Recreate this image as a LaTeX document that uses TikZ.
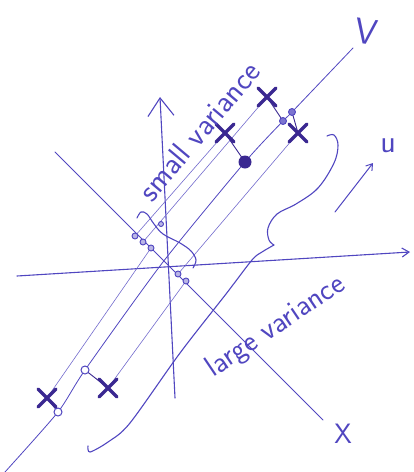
\documentclass[tikz,border=0pt]{standalone}
\usetikzlibrary{arrows.meta}
\definecolor{ink}{RGB}{80,70,192}
\definecolor{darkink}{RGB}{58,40,145}
\begin{document}
\begin{tikzpicture}[x=1pt,y=-1pt,
  axis/.style={ink,line width=1.1pt,line cap=round},
  vline/.style={ink,line width=0.8pt,line cap=round},
  proj/.style={ink!80,line width=0.6pt},
  perp/.style={darkink,line width=0.9pt},
  brace/.style={ink,line width=1.1pt,line cap=round,line join=round},
  crossmark/.style={darkink,line width=3.2pt,line cap=round},
  xmark/.pic={\draw[crossmark] (-9,-9) -- (9,9) (9,-9) -- (-9,9);},
  smalldot/.style={ink,line width=0.9pt,fill=ink!40},
  opendot/.style={ink,line width=1pt,fill=white},
  lbl/.style={ink,font=\sffamily\fontsize{31}{31}\selectfont}]
\useasboundingbox (0,0) rectangle (414,472);

% key points
\coordinate (O) at (163,262);
\coordinate (hl) at (17,276);
\coordinate (hr) at (410,252);
\coordinate (vt) at (160,97);
\coordinate (vb) at (175,398);
\coordinate (xa) at (55,152);
\coordinate (xb) at (323,420);
\coordinate (vlo) at (5,472);
\coordinate (vhi) at (353,48);
% data points
\coordinate (C1) at (267,97);
\coordinate (C2) at (225,133);
\coordinate (C3) at (298,133);
\coordinate (C4) at (47,398);
\coordinate (C5) at (108,388);
% projections on V
\coordinate (P1) at (283,121);
\coordinate (P2) at (245,162);
\coordinate (P3) at (292,112);
\coordinate (P4) at (58,412);
\coordinate (P5) at (85,370);
% projections on X
\coordinate (Q1) at (135,236);
\coordinate (Q2) at (143,242);
\coordinate (Q3) at (151,248);
\coordinate (Q4) at (178,274);
\coordinate (Q5) at (186,281);
\coordinate (Qv) at (161,224);

% axes
\draw[axis,-{Straight Barb[length=7pt,width=9pt]}] (hl) -- (hr);
\draw[axis,-{Straight Barb[length=18pt,width=26pt]}] (vb) -- (vt);
\draw[vline] (xa) -- (xb);
\draw[vline] plot[smooth,tension=0.4] coordinates {(vlo) (P4) (P5) (O) (P2) (P1) (P3) (vhi)};

% projection lines parallel to V
\draw[proj] (C2) -- (Q1);
\draw[proj] (C1) -- (Q2);
\draw[proj] (C4) -- (Q3);
\draw[proj] (C3) -- (Q4);
\draw[proj] (C5) -- (Q5);

% perpendicular segments to V
\draw[perp] (C1) -- (P1);
\draw[perp] (C2) -- (P2);
\draw[perp] (C3) -- (P3);
\draw[perp] (C4) -- (P4);
\draw[perp] (C5) -- (P5);

% braces
\draw[brace] plot[smooth,tension=0.6] coordinates {(327,136) (334,135) (338,145) (334,163) (318,188) (296,204) (277,214) (268,228) (269,240) (274,245)};
\draw[brace] plot[smooth,tension=0.5] coordinates {(274,245) (262,252) (252,260) (226,294) (180,353) (130,423) (108,442) (90,452) (88,446)};
\draw[brace] plot[smooth,tension=0.6] coordinates {(137,218) (141,212) (147,214) (154,224) (163,234) (180,243) (191,251) (196,260) (193,268)};

% u arrow
\draw[ink,line width=1pt,line cap=round,-{Straight Barb[length=6pt,width=8pt]}] (335,212) -- (373,163);

% data crosses
\pic at (C1) {xmark};
\pic at (C2) {xmark};
\pic at (C3) {xmark};
\pic at (C4) {xmark};
\pic at (C5) {xmark};

% dots
\fill[darkink] (P2) circle[radius=6.5pt];
\draw[smalldot,fill=ink!75] (P1) circle[radius=3.5pt];
\draw[smalldot,fill=ink!75] (P3) circle[radius=3.5pt];
\draw[opendot] (P4) circle[radius=4pt];
\draw[opendot] (P5) circle[radius=4pt];
\foreach \q in {Q1,Q2,Q3,Q4,Q5} {\draw[smalldot] (\q) circle[radius=3pt];}
\draw[smalldot] (Qv) circle[radius=2.5pt];

% labels
\node[lbl,rotate=50,anchor=base] (ls) at (207,138) {small variance};
\node[lbl,rotate=34,anchor=base,font=\sffamily\fontsize{30}{30}\selectfont] (ll) at (280,333) {large variance};
\node[ink,font=\sffamily\fontsize{36}{36}\selectfont,rotate=-8] (lv) at (366,32) {V};
\node[ink,font=\sffamily\fontsize{28}{28}\selectfont] (lx) at (343,434) {X};
\node[ink,font=\sffamily\fontsize{32}{32}\selectfont] (lu) at (388,146) {u};
\end{tikzpicture}
\end{document}
